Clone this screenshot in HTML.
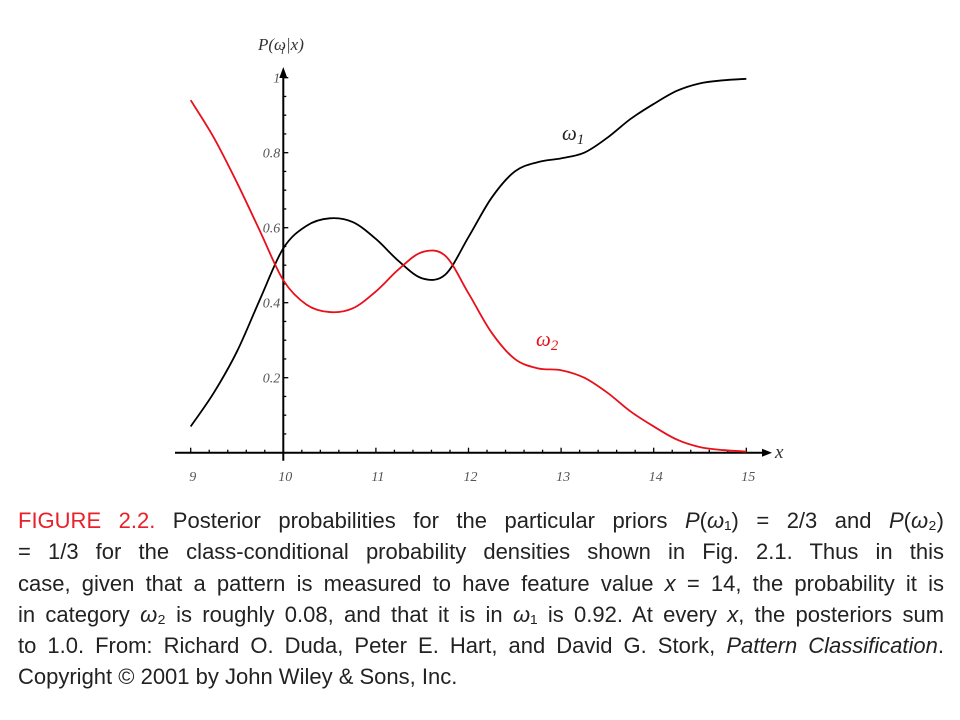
<!DOCTYPE html>
<html><head><meta charset="utf-8"><style>
body{margin:0;background:#fff;width:960px;height:720px;overflow:hidden;position:relative}
svg{position:absolute;left:0;top:0}
.cap{position:absolute;left:18px;top:505px;width:926px;font-family:"Liberation Sans Narrow","Liberation Sans",sans-serif;font-size:22px;line-height:31.3px;color:#222}
.ln{text-align:justify;text-align-last:justify;white-space:nowrap;height:31.3px}
.ln.last{text-align-last:left}
.fig{color:#e8202a}
</style></head><body>
<svg id="chart" width="960" height="500"></svg>
<div class="cap">
<div class="ln"><span class="fig">FIGURE 2.2.</span> Posterior probabilities for the particular priors <i>P</i>(<i>ω</i>₁) = 2/3 and <i>P</i>(<i>ω</i>₂)</div>
<div class="ln">= 1/3 for the class-conditional probability densities shown in Fig. 2.1. Thus in this</div>
<div class="ln">case, given that a pattern is measured to have feature value <i>x</i> = 14, the probability it is</div>
<div class="ln">in category <i>ω</i>₂ is roughly 0.08, and that it is in <i>ω</i>₁ is 0.92. At every <i>x</i>, the posteriors sum</div>
<div class="ln">to 1.0. From: Richard O. Duda, Peter E. Hart, and David G. Stork, <i>Pattern Classification</i>.</div>
<div class="ln last">Copyright © 2001 by John Wiley &amp; Sons, Inc.</div>
</div>
<script>
const xs=[9,9.25,9.5,9.75,10,10.25,10.5,10.75,11,11.25,11.5,11.75,12,12.25,12.5,12.75,13,13.25,13.5,13.75,14,14.25,14.5,14.75,15];
const w1=[0.07,0.16,0.27,0.41,0.545,0.605,0.625,0.615,0.57,0.51,0.465,0.475,0.575,0.68,0.75,0.775,0.785,0.80,0.84,0.89,0.93,0.965,0.985,0.993,0.997];
const w2=[0.94,0.84,0.72,0.59,0.46,0.395,0.375,0.385,0.43,0.49,0.535,0.525,0.425,0.32,0.25,0.225,0.22,0.20,0.16,0.11,0.07,0.035,0.015,0.007,0.003];
const xTicks=["9","10","11","12","13","14","15"];
const yTicks=["0.2","0.4","0.6","0.8","1"];
const NS="http://www.w3.org/2000/svg";
const svg=document.getElementById('chart');
const X=v=>190.7+(v-9)*92.6;
const Y=v=>452.7-v*375;
function mk(t,a,p){const e=document.createElementNS(NS,t);for(const k in a)e.setAttribute(k,a[k]);(p||svg).appendChild(e);return e;}
// axes
const xa=mk('line',{x1:175,y1:Y(0),x2:762,y2:Y(0),stroke:'#000','stroke-width':2});


const ya=mk('line',{x1:X(10),y1:Y(0)+8,x2:X(10),y2:75,stroke:'#000','stroke-width':2});


mk('polygon',{points:`${762},${Y(0)-4} ${772},${Y(0)} ${762},${Y(0)+4}`,fill:'#000'});
mk('polygon',{points:`${X(10)-4},78 ${X(10)},67 ${X(10)+4},78`,fill:'#000'});
for(let i=0;i<=30;i++){const v=9+i*0.2;const big=i%5==0;mk('line',{x1:X(v),y1:Y(0)-(big?5:3),x2:X(v),y2:Y(0),stroke:'#000','stroke-width':1.3});}
for(let i=1;i<=20;i++){const v=i*0.05;const big=i%4==0;mk('line',{x1:X(10),y1:Y(v),x2:X(10)+(big?5:3),y2:Y(v),stroke:'#000','stroke-width':1.3});}
xTicks.forEach(t=>{const e=mk('text',{x:X(+t)+2,y:481,'text-anchor':'middle','font-family':'Liberation Serif,serif','font-style':'italic','font-size':14,fill:'#555'});e.textContent=t;

});
yTicks.forEach(t=>{const e=mk('text',{x:X(10)-3,y:Y(+t)+5,'text-anchor':'end','font-family':'Liberation Serif,serif','font-style':'italic','font-size':14,fill:'#555'});e.textContent=t;

});
function path(ys,col,name){let d=`M${X(xs[0])},${Y(ys[0])}`;
for(let i=0;i<xs.length-1;i++){const p0=i?i-1:i,p3=i+2<xs.length?i+2:i+1;
const c1x=X(xs[i])+(X(xs[i+1])-X(xs[p0]))/6,c1y=Y(ys[i])+(Y(ys[i+1])-Y(ys[p0]))/6;
const c2x=X(xs[i+1])-(X(xs[p3])-X(xs[i]))/6,c2y=Y(ys[i+1])-(Y(ys[p3])-Y(ys[i]))/6;
d+=` C${c1x},${c1y} ${c2x},${c2y} ${X(xs[i+1])},${Y(ys[i+1])}`;}
const e=mk('path',{d,fill:'none',stroke:col,'stroke-width':1.8});

}
path(w1,'#000','omega1-curve');path(w2,'#e8101a','omega2-curve');
function lab(x,y,txt,sub,col,name,size){const e=mk('text',{x,y,'font-family':'Liberation Serif,serif','font-style':'italic','font-size':size,fill:col});e.textContent=txt;
if(sub){const s=mk('tspan',{dy:4,'font-size':size*0.7},e);s.textContent=sub;}

}
lab(258,50,'P(ω','',"#333",'y-axis-title',17);
const t2=mk('text',{x:281,y:54,'font-family':'Liberation Serif,serif','font-style':'italic','font-size':11,fill:'#333'});t2.textContent='i';
const t3=mk('text',{x:286,y:50,'font-family':'Liberation Serif,serif','font-style':'italic','font-size':17,fill:'#333'});t3.textContent='|x)';
lab(775,458,'x','','#333','x-axis-title',19);
lab(562,140,'ω','1','#222','omega1-label',21);
lab(536,346,'ω','2','#e8101a','omega2-label',21);
</script>
</body></html>
